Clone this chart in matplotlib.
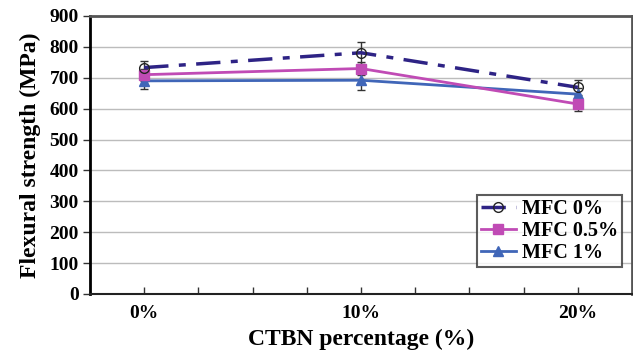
import matplotlib.pyplot as plt
import numpy as np

# data
categories = ['0%', '10%', '20%']
mfc0 = [733, 781, 669]
mfc0_err = [22, 35, 24]
mfc05 = [710, 730, 615]
mfc05_err = [20, 20, 22]
mfc1 = [690, 692, 647]
mfc1_err = [27, 32, 20]

plt.rcParams['font.family'] = ['Liberation Serif', 'DejaVu Serif']
plt.rcParams['font.weight'] = 'bold'

fig = plt.figure(figsize=(6.33, 3.5), dpi=100)
ax = fig.add_axes([90 / 633, 1 - 294 / 350, 542 / 633, 278 / 350])

x = np.arange(len(categories))

for yy in range(100, 900, 100):
    ax.axhline(yy, color='#bcbcbc', lw=1.0, zorder=0)

# error bars first, lines on top
for vals, err in [(mfc1, mfc1_err), (mfc05, mfc05_err), (mfc0, mfc0_err)]:
    ax.errorbar(x, vals, yerr=err, fmt='none', ecolor='#333333',
                elinewidth=1, capsize=3, zorder=2)

l1, = ax.plot(x, mfc1, color='#4066b8', lw=2, marker='^', ms=7, label='MFC 1%', zorder=3)
l05, = ax.plot(x, mfc05, color='#c04bb5', lw=2, marker='s', ms=7, label='MFC 0.5%', zorder=4)
l0, = ax.plot(x, mfc0, color='#2e2385', lw=2.5, ls=(0, (7, 3, 2, 3)),
              marker='o', ms=7, mfc='none', mec='#222222', mew=1,
              label='MFC 0%', zorder=5)

ax.set_xlim(-0.25, 2.25)
ax.set_ylim(0, 900)
ax.set_yticks(range(0, 901, 100))
ax.set_xticks(x)
ax.set_xticklabels(categories)
ax.set_xticks(np.arange(0, 2.01, 0.25), minor=True)
ax.tick_params(axis='x', which='both', direction='in', length=5, width=1, color='#333333')
ax.tick_params(axis='x', which='major', pad=8, labelsize=14)
ax.tick_params(axis='y', direction='out', length=5, width=1, color='#333333', labelsize=14, pad=3)

for lbl in ax.get_xticklabels() + ax.get_yticklabels():
    lbl.set_fontweight('bold')

ax.spines['left'].set_color('black')
ax.spines['left'].set_linewidth(2)
ax.spines['bottom'].set_color('#222222')
ax.spines['bottom'].set_linewidth(1.5)
ax.spines['top'].set_color('#555555')
ax.spines['top'].set_linewidth(2)
ax.spines['right'].set_color('#555555')
ax.spines['right'].set_linewidth(2)

ax.set_xlabel('CTBN percentage (%)', fontsize=17, fontweight='bold', labelpad=5)
ax.set_ylabel('Flexural strength (MPa)', fontsize=17, fontweight='bold', labelpad=6)

leg = ax.legend([l0, l05, l1], ['MFC 0%', 'MFC 0.5%', 'MFC 1%'],
                loc='lower right', bbox_to_anchor=(0.981, 0.098),
                prop={'weight': 'bold', 'size': 14.5},
                frameon=True, fancybox=False, edgecolor='#333333',
                handlelength=1.7, borderpad=0.2, labelspacing=0.1, handletextpad=0.3,
                borderaxespad=0)
leg.get_frame().set_linewidth(1.5)

fig.savefig('out.png', dpi=100)
